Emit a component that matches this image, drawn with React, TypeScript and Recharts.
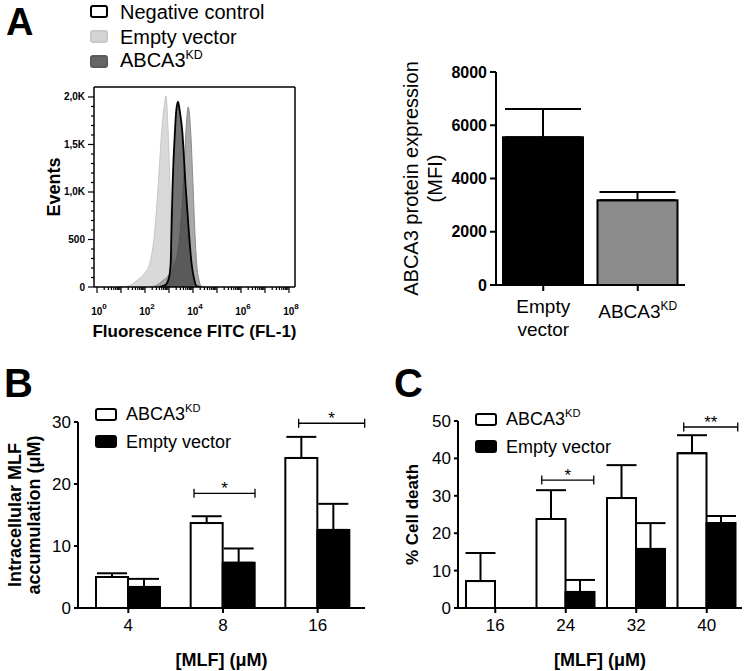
import React from 'react';
import {
  AreaChart,
  Area,
  BarChart,
  Bar,
  Cell,
  ErrorBar,
  XAxis,
  YAxis,
  Legend,
  ReferenceLine,
} from 'recharts';

const FONT = '"Liberation Sans", Arial, Helvetica, sans-serif';
const INK = '#000';

// ---- Panel A (left): FITC histogram, x = log10(fluorescence), y = events
const histEmptyVector: [number, number][] = [
  [0.8, 0], [1.3, 10], [1.67, 70], [2.0, 150], [2.2, 250], [2.4, 570], [2.55, 1070],
  [2.7, 1650], [2.8, 1900], [2.875, 2010], [2.96, 1650], [3.04, 1070], [3.08, 570],
  [3.17, 250], [3.25, 80], [3.35, 10], [3.5, 0],
];
const histAbca3: [number, number][] = [
  [2.2, 0], [2.5, 20], [2.7, 60], [3.0, 130], [3.25, 250], [3.46, 570], [3.6, 1070],
  [3.71, 1650], [3.8, 1895], [3.9, 1650], [4.0, 1070], [4.08, 570], [4.15, 250],
  [4.25, 70], [4.35, 10], [4.5, 0],
];
const histNegative: [number, number][] = [
  [2.6, 0], [2.85, 20], [3.0, 100], [3.07, 250], [3.1, 570], [3.15, 1070], [3.25, 1650],
  [3.3, 1850], [3.375, 1950], [3.45, 1850], [3.55, 1650], [3.69, 1070], [3.83, 570],
  [3.94, 250], [4.05, 80], [4.15, 10], [4.3, 0],
];
const histDecades = [0, 1, 2, 3, 4, 5, 6, 7, 8];
const histLabelledDecades = [0, 2, 4, 6, 8];
const histYLabelValues = [0, 500, 1000, 1500, 2000];
const histYLabels = ['0', '500', '1,0K', '1,5K', '2,0K'];

// ---- Panel A (right): ABCA3 protein expression (MFI)
const exprGroups = ['Empty vector', 'ABCA3KD'];
const exprMean = [5550, 3180];
const exprSd = [1060, 310];
const exprFill = ['#000000', '#8c8c8c'];

// ---- Panel B: intracellular MLF accumulation (µM)
const doseB = ['4', '8', '16'];
const accumKd = [5.0, 13.7, 24.2];
const accumKdSd = [0.6, 1.1, 3.4];
const accumEv = [3.4, 7.3, 12.6];
const accumEvSd = [1.3, 2.3, 4.2];

// ---- Panel C: % cell death
const doseC = ['16', '24', '32', '40'];
const deathKd = [7.2, 23.8, 29.4, 41.4];
const deathKdSd = [7.5, 7.7, 8.8, 4.8];
const deathEv = [null, 4.3, 15.8, 22.7];
const deathEvSd = [null, 3.2, 6.9, 1.9];

// significance brackets: anchored on a dose group, ends offset in px from its centre
const bracketsB = [
  { group: '8', y: 18.5, left: -29, right: 32, mark: '*' },
  { group: '16', y: 29.8, left: -19, right: 47, mark: '*' },
];
const bracketsC = [
  { group: '24', y: 34.2, left: -24, right: 28, mark: '*' },
  { group: '40', y: 48.4, left: -23, right: 31, mark: '**' },
];

// ---- tables built from the arrays above
const histX = Array.from(
  new Set([...histEmptyVector, ...histAbca3, ...histNegative].map((p) => p[0]))
).sort((a, b) => a - b);
const valueAt = (s: [number, number][], x: number) => {
  const p = s.find((q) => q[0] === x);
  return p ? p[1] : null;
};
const histData = histX.map((x) => ({
  x,
  ev: valueAt(histEmptyVector, x),
  kd: valueAt(histAbca3, x),
  neg: valueAt(histNegative, x),
}));
const histXTicks = histDecades.flatMap((d) =>
  d < 8 ? [d, ...[2, 3, 4, 5, 6, 7, 8, 9].map((k) => d + Math.log10(k))] : [d]
);
const histYTicks = Array.from({ length: 21 }, (_, i) => i * 100);

const exprData = exprGroups.map((g, i) => ({ g, v: exprMean[i], err: [0, exprSd[i]] }));
const accumData = doseB.map((dose, i) => ({
  dose,
  kd: accumKd[i],
  kdErr: [0, accumKdSd[i]],
  ev: accumEv[i],
  evErr: [0, accumEvSd[i]],
}));
const deathData = doseC.map((dose, i) => ({
  dose,
  kd: deathKd[i],
  kdErr: [0, deathKdSd[i]],
  ev: deathEv[i],
  evErr: deathEvSd[i] == null ? null : [0, deathEvSd[i]],
}));

const histLegend = [
  { name: 'Negative control', fill: '#ffffff', border: '#000' },
  { name: 'Empty vector', fill: '#d4d4d4', border: '#c8c8c8' },
  { name: 'ABCA3', sup: 'KD', fill: '#666666', border: '#5a5a5a' },
];
const barLegend = [
  { name: 'ABCA3', sup: 'KD', fill: '#ffffff' },
  { name: 'Empty vector', fill: '#000000' },
];

function HistXTick(props: any) {
  const { x, y, payload } = props;
  const v = payload.value as number;
  const major = histDecades.includes(v);
  return (
    <g>
      <line x1={x} x2={x} y1={y} y2={y + (major ? 6 : 3)} stroke={INK} strokeWidth={1.2} />
      {histLabelledDecades.includes(v) && (
        <text x={x + 2} y={y + 28} textAnchor="middle" fontSize={10} fontWeight="bold" fill={INK}>
          10
          <tspan dy={-6} fontSize={8}>
            {v}
          </tspan>
        </text>
      )}
    </g>
  );
}

function HistYTick(props: any) {
  const { x, y, payload } = props;
  const idx = histYLabelValues.indexOf(payload.value);
  return (
    <g>
      <line x1={x} x2={x - (idx >= 0 ? 6 : 3)} y1={y} y2={y} stroke={INK} strokeWidth={1.2} />
      {idx >= 0 && (
        <text x={x - 9} y={y} dy="0.35em" textAnchor="end" fontSize={10} fontWeight="bold" fill={INK}>
          {histYLabels[idx]}
        </text>
      )}
    </g>
  );
}

function ExprTick(props: any) {
  const { x, y, payload } = props;
  if (payload.value === 'Empty vector') {
    return (
      <text x={x} y={y} textAnchor="middle" fontSize={19} fill={INK}>
        <tspan x={x} dy={20}>Empty</tspan>
        <tspan x={x} dy={23}>vector</tspan>
      </text>
    );
  }
  return (
    <text x={x} y={y + 25} textAnchor="middle" fontSize={19} fill={INK}>
      ABCA3
      <tspan dy={-8} fontSize={12}>KD</tspan>
    </text>
  );
}

// rotated axis title, lines given with baseline offsets from the axis box left edge
const yTitle = (lines: { text: string; dx: number }[], size: number, bold: boolean) => (props: any) => {
  const vb = props.viewBox;
  const cy = vb.y + vb.height / 2;
  return (
    <g>
      {lines.map((l) => {
        const bx = vb.x + l.dx;
        return (
          <text
            key={l.text}
            x={bx}
            y={cy}
            transform={`rotate(-90, ${bx}, ${cy})`}
            textAnchor="middle"
            fontSize={size}
            fontWeight={bold ? 'bold' : 'normal'}
            fill={INK}
          >
            {l.text}
          </text>
        );
      })}
    </g>
  );
};

const xTitle = (text: string, dy: number, size: number) => (props: any) => {
  const vb = props.viewBox;
  return (
    <text x={vb.x + vb.width / 2} y={vb.y + dy} textAnchor="middle" fontSize={size} fontWeight="bold" fill={INK}>
      {text}
    </text>
  );
};

function LegendBox({ items, size, w, h, row, gap }: any) {
  return (
    <div style={{ fontFamily: FONT, fontSize: size, color: INK }}>
      {items.map((s: any) => (
        <div key={s.name} style={{ display: 'flex', alignItems: 'center', height: row }}>
          <span
            style={{
              width: w,
              height: h,
              boxSizing: 'border-box',
              border: `2px solid ${s.border || INK}`,
              borderRadius: 3,
              background: s.fill,
              flex: 'none',
            }}
          />
          <span style={{ marginLeft: gap, whiteSpace: 'nowrap', lineHeight: `${size}px` }}>
            {s.name}
            {s.sup && <span style={{ fontSize: size * 0.62, position: 'relative', top: -size * 0.4 }}>{s.sup}</span>}
          </span>
        </div>
      ))}
    </div>
  );
}

function HistogramPanel() {
  return (
    <AreaChart width={380} height={350} data={histData} margin={{ top: 87, right: 85, bottom: 18, left: 50 }} style={{ fontFamily: FONT }}>
      <XAxis
        type="number"
        dataKey="x"
        domain={[-0.125, 8.25]}
        allowDataOverflow
        ticks={histXTicks}
        interval={0}
        tickSize={0}
        tickMargin={0}
        tickLine={false}
        tick={HistXTick}
        stroke={INK}
        strokeWidth={1.5}
        height={45}
        label={xTitle('Fluorescence FITC (FL-1)', 50, 17)}
      />
      <YAxis
        type="number"
        domain={[0, 2105]}
        allowDataOverflow
        ticks={histYTicks}
        interval={0}
        tickSize={0}
        tickMargin={0}
        tickLine={false}
        tick={HistYTick}
        stroke={INK}
        strokeWidth={1.5}
        width={44}
        label={yTitle([{ text: 'Events', dx: 10 }], 18, true)}
      />
      <Area dataKey="ev" name="Empty vector" type="monotone" connectNulls isAnimationActive={false} fill="#d9d9d9" fillOpacity={1} stroke="#c6c6c6" strokeWidth={1} />
      <Area dataKey="kd" name="ABCA3KD" type="monotone" connectNulls isAnimationActive={false} fill="#9a9a9a" fillOpacity={0.85} stroke="#8a8a8a" strokeWidth={1} />
      <Area dataKey="neg" name="Negative control" type="monotone" connectNulls isAnimationActive={false} fill="#3c3c3c" fillOpacity={0.72} stroke={INK} strokeWidth={1.8} />
      <ReferenceLine y={2105} stroke={INK} strokeWidth={1.5} ifOverflow="visible" />
      <ReferenceLine x={8.25} stroke={INK} strokeWidth={1.5} ifOverflow="visible" />
      <Legend
        layout="vertical"
        verticalAlign="middle"
        align="center"
        wrapperStyle={{ left: 90, top: -1, width: 260 }}
        content={() => <LegendBox items={histLegend} size={20} w={18} h={13} row={25} gap={12} />}
      />
    </AreaChart>
  );
}

function ExpressionPanel() {
  return (
    <BarChart width={370} height={330} data={exprData} margin={{ top: 42, right: 60, bottom: 25, left: 66 }} barSize={80} style={{ fontFamily: FONT }}>
      <XAxis dataKey="g" stroke={INK} strokeWidth={2} tickSize={6} tickMargin={2} tick={ExprTick} height={50} interval={0} />
      <YAxis
        domain={[0, 8000]}
        ticks={[0, 2000, 4000, 6000, 8000]}
        stroke={INK}
        strokeWidth={2}
        tickSize={6}
        tickMargin={3}
        width={55}
        tick={{ fill: INK, fontSize: 16, fontWeight: 'bold' }}
        label={yTitle(
          [
            { text: 'ABCA3 protein expression', dx: -23 },
            { text: '(MFI)', dx: 1 },
          ],
          20,
          false
        )}
      />
      <Bar dataKey="v" stroke={INK} strokeWidth={2} isAnimationActive={false}>
        {exprData.map((d, i) => (
          <Cell key={d.g} fill={exprFill[i]} />
        ))}
        <ErrorBar dataKey="err" width={38} strokeWidth={2} stroke={INK} direction="y" />
      </Bar>
    </BarChart>
  );
}

const bracketShape = (b: (typeof bracketsB)[number]) => (props: any) => {
  const { x1, y1 } = props;
  const l = x1 + b.left;
  const r = x1 + b.right;
  return (
    <g>
      <line x1={l} x2={r} y1={y1} y2={y1} stroke={INK} strokeWidth={1.3} />
      <line x1={l} x2={l} y1={y1 - 4.5} y2={y1 + 4.5} stroke={INK} strokeWidth={1.3} />
      <line x1={r} x2={r} y1={y1 - 4.5} y2={y1 + 4.5} stroke={INK} strokeWidth={1.3} />
      <text x={(l + r) / 2} y={y1 + 1} textAnchor="middle" fontSize={17} fill={INK}>
        {b.mark}
      </text>
    </g>
  );
};

function GroupedPanel({ data, yMax, yTicks, barSize, padLeft, margin, title, brackets, legendPos }: any) {
  return (
    <BarChart width={margin.w} height={271} data={data} margin={margin.m} barSize={barSize} barGap={0} style={{ fontFamily: FONT }}>
      <XAxis
        dataKey="dose"
        padding={{ left: padLeft, right: 0 }}
        stroke={INK}
        strokeWidth={2}
        tickSize={5}
        tickMargin={6}
        tick={{ fill: INK, fontSize: 17 }}
        height={30}
        interval={0}
        label={xTitle('[MLF] (\u03bcM)', 58, 18)}
      />
      <YAxis
        domain={[0, yMax]}
        ticks={yTicks}
        stroke={INK}
        strokeWidth={2}
        tickSize={4}
        tickMargin={3}
        width={40}
        tick={{ fill: INK, fontSize: 17 }}
        label={title}
      />
      <Bar dataKey="kd" fill="#ffffff" stroke={INK} strokeWidth={2} isAnimationActive={false}>
        <ErrorBar dataKey="kdErr" width={15} strokeWidth={2} stroke={INK} direction="y" />
      </Bar>
      <Bar dataKey="ev" fill="#000000" stroke={INK} strokeWidth={2} isAnimationActive={false}>
        <ErrorBar dataKey="evErr" width={15} strokeWidth={2} stroke={INK} direction="y" />
      </Bar>
      {brackets.map((b: any) => (
        <ReferenceLine
          key={b.group}
          segment={[{ x: b.group, y: b.y }, { x: b.group, y: b.y }]}
          ifOverflow="visible"
          shape={bracketShape(b)}
        />
      ))}
      <Legend
        layout="vertical"
        verticalAlign="middle"
        align="center"
        wrapperStyle={{ left: legendPos[0], top: legendPos[1], width: 200 }}
        content={() => <LegendBox items={barLegend} size={18} w={22} h={13} row={27} gap={9} />}
      />
    </BarChart>
  );
}

const panelLetters = [
  { t: 'A', x: 6, y: 35, size: 38 },
  { t: 'B', x: 4, y: 397, size: 40 },
  { t: 'C', x: 394, y: 397, size: 40 },
];

export default function App() {
  return (
    <div
      style={{
        position: 'absolute',
        left: 0,
        top: 0,
        width: 745,
        height: 671,
        background: '#fff',
        fontFamily: FONT,
        color: INK,
        overflow: 'hidden',
      }}
    >
      <div style={{ position: 'absolute', left: 0, top: 0 }}>
        <HistogramPanel />
      </div>
      <div style={{ position: 'absolute', left: 375, top: 30 }}>
        <ExpressionPanel />
      </div>
      <div style={{ position: 'absolute', left: 0, top: 400 }}>
        <GroupedPanel
          data={accumData}
          yMax={30}
          yTicks={[0, 10, 20, 30]}
          barSize={32}
          padLeft={3}
          margin={{ w: 380, m: { top: 22, right: 15, bottom: 33, left: 38 } }}
          title={yTitle(
            [
              { text: 'Intracellular MLF', dx: -17 },
              { text: 'accumulation (\u03bcM)', dx: 2 },
            ],
            18,
            true
          )}
          brackets={bracketsB}
          legendPos={[95, 1]}
        />
      </div>
      <div style={{ position: 'absolute', left: 375, top: 400 }}>
        <GroupedPanel
          data={deathData}
          yMax={50}
          yTicks={[0, 10, 20, 30, 40, 50]}
          barSize={29}
          padLeft={2}
          margin={{ w: 370, m: { top: 21, right: 3, bottom: 33, left: 43 } }}
          title={yTitle([{ text: '% Cell death', dx: 0 }], 17, true)}
          brackets={bracketsC}
          legendPos={[100, 6]}
        />
      </div>
      <svg width={745} height={671} style={{ position: 'absolute', left: 0, top: 0, pointerEvents: 'none' }}>
        {panelLetters.map((l) => (
          <text key={l.t} x={l.x} y={l.y} fontSize={l.size} fontWeight="bold" fill={INK} style={{ fontFamily: FONT }}>
            {l.t}
          </text>
        ))}
      </svg>
    </div>
  );
}
